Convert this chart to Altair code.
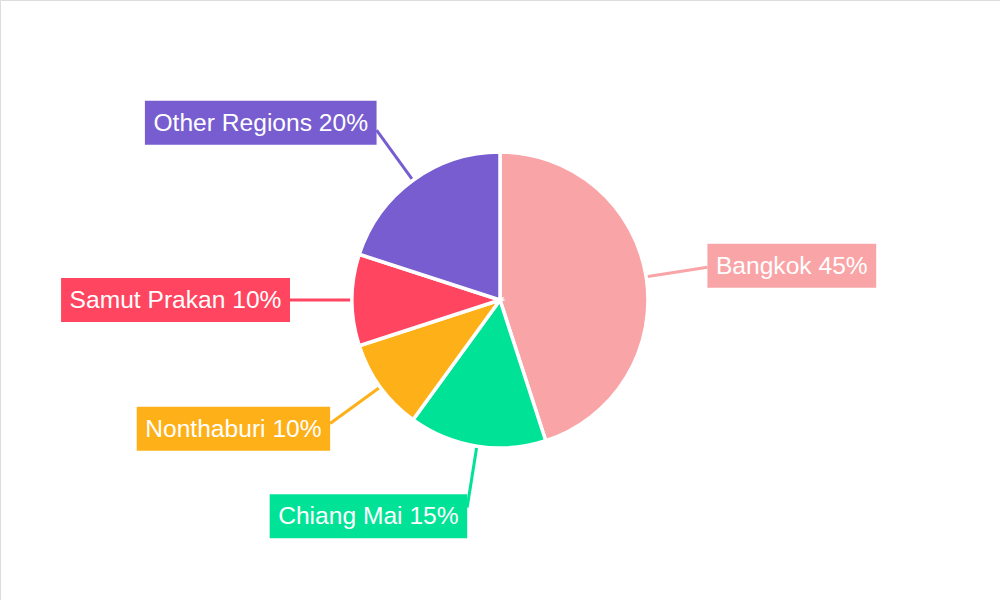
import math
import altair as alt
import pandas as pd

# Market share by region (%)
regions = ["Bangkok", "Chiang Mai", "Nonthaburi", "Samut Prakan", "Other Regions"]
shares = [45, 15, 10, 10, 20]
colors = ["#F9A4A6", "#00E396", "#FEB019", "#FF4560", "#775DD0"]

W, H = 1000, 600
PIE_R = 148          # outer radius of the pie
LEAD_R = 210         # where the leader line ends
BOX_R = 219          # vertical placement radius of the label box
FONT = 24.6
PAD_X, BOX_H = 8.5, 44

# Arial / Liberation Sans advance widths (per 1000 em) for the label glyphs
ADV = {" ": 278, "%": 889, "0": 556, "1": 556, "2": 556, "4": 556, "5": 556,
       "B": 667, "C": 722, "M": 833, "N": 722, "O": 778, "P": 667, "R": 722, "S": 667,
       "a": 556, "b": 556, "e": 556, "g": 556, "h": 556, "i": 222, "k": 500,
       "m": 833, "n": 556, "o": 556, "r": 333, "s": 500, "t": 278, "u": 556}


def text_width(s):
    return sum(ADV.get(c, 556) for c in s) * FONT / 1000.0


total = sum(shares)
rows = []
start = 0.0
for i, (name, v) in enumerate(zip(regions, shares)):
    mid = (start + v / 2) / total * 2 * math.pi
    start += v
    label = f"{name} {v}%"
    s, c = math.sin(mid), math.cos(mid)
    w = text_width(label) + 2 * PAD_X
    edge = LEAD_R * s
    if s >= 0:
        bx1, bx2 = edge, edge + w
    else:
        bx1, bx2 = edge - w, edge
    by = BOX_R * c
    rows.append(dict(
        order=i, region=name, share=v, label=label,
        lx1=PIE_R * s, ly1=PIE_R * c, lx2=LEAD_R * s, ly2=LEAD_R * c,
        bx1=bx1, bx2=bx2, by1=by - BOX_H / 2, by2=by + BOX_H / 2,
        tx=(bx1 + bx2) / 2, ty=by,
    ))
df = pd.DataFrame(rows)

color = alt.Color("region:N", scale=alt.Scale(domain=regions, range=colors), legend=None)
xs = alt.Scale(domain=[-W / 2, W / 2], nice=False, zero=False)
ys = alt.Scale(domain=[-H / 2, H / 2], nice=False, zero=False)
noax = None

base = alt.Chart(df)

pie = base.mark_arc(outerRadius=PIE_R, stroke="white", strokeWidth=3.5).encode(
    theta=alt.Theta("share:Q", stack=True),
    order=alt.Order("order:Q"),
    color=color,
)

leaders = base.mark_rule(strokeWidth=3).encode(
    x=alt.X("lx1:Q", scale=xs, axis=noax),
    y=alt.Y("ly1:Q", scale=ys, axis=noax),
    x2="lx2:Q",
    y2="ly2:Q",
    color=color,
)

boxes = base.mark_rect().encode(
    x=alt.X("bx1:Q", scale=xs, axis=noax),
    x2="bx2:Q",
    y=alt.Y("by1:Q", scale=ys, axis=noax),
    y2="by2:Q",
    color=color,
)

texts = base.mark_text(
    font="Liberation Sans", fontSize=FONT, color="white",
    align="center", baseline="middle", dy=1,
).encode(
    x=alt.X("tx:Q", scale=xs, axis=noax),
    y=alt.Y("ty:Q", scale=ys, axis=noax),
    text="label:N",
)

chart = (
    alt.layer(leaders, pie, boxes, texts)
    .properties(width=W, height=H, padding=0, autosize=alt.AutoSizeParams(type="none"))
    .configure_view(stroke="transparent", strokeWidth=0)
    .configure(background="white")
)

chart.save("out.html", embed_options={"renderer": "svg", "actions": False})
